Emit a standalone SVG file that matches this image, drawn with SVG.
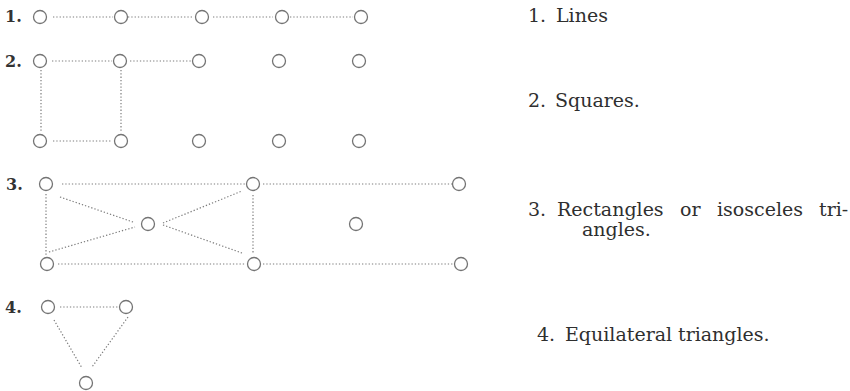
<svg xmlns="http://www.w3.org/2000/svg" width="850" height="391" viewBox="0 0 850 391">
<style>
.n{fill:#fff;stroke:#747474;stroke-width:1.3}
.c{stroke:#7c7c7c;stroke-width:1.2;stroke-dasharray:1.3 2;fill:none}
.lbl{font-family:"DejaVu Serif","Liberation Serif",serif;font-size:16px;fill:#333;font-weight:bold}
.t{font-family:"DejaVu Serif","Liberation Serif",serif;font-size:19px;fill:#2f2f2f}
</style>
<rect width="850" height="391" fill="#fff"/>
<g id="labels">
<text class="lbl" x="5" y="22">1.</text>
<text class="lbl" x="5" y="67">2.</text>
<text class="lbl" x="6" y="190" font-weight="normal">3.</text>
<text class="lbl" x="5" y="313">4.</text>
<text class="t" y="22"><tspan x="528">1.</tspan><tspan x="556">Lines</tspan></text>
<text class="t" y="107"><tspan x="528">2.</tspan><tspan x="555">Squares.</tspan></text>
<text class="t" y="216"><tspan x="528">3.</tspan><tspan x="557">Rectangles</tspan><tspan x="680">or</tspan><tspan x="717">isosceles</tspan><tspan x="819">tri-</tspan></text>
<text class="t" x="582" y="236">angles.</text>
<text class="t" y="341"><tspan x="537">4.</tspan><tspan x="565">Equilateral</tspan><tspan x="678">triangles.</tspan></text>
</g>
<g id="connectors">
<line class="c" x1="53" y1="17" x2="113" y2="17"/>
<line class="c" x1="128" y1="17" x2="194" y2="17"/>
<line class="c" x1="213" y1="17" x2="273" y2="17"/>
<line class="c" x1="290" y1="17" x2="353" y2="17"/>
<line class="c" x1="52" y1="61" x2="112" y2="61"/>
<line class="c" x1="130" y1="61" x2="191" y2="61"/>
<line class="c" x1="41" y1="70" x2="41" y2="132"/>
<line class="c" x1="121" y1="70" x2="121" y2="132"/>
<line class="c" x1="53" y1="141" x2="112" y2="141"/>
<line class="c" x1="62" y1="184" x2="246" y2="184"/>
<line class="c" x1="263" y1="184" x2="452" y2="184"/>
<line class="c" x1="46" y1="194" x2="46" y2="256"/>
<line class="c" x1="253" y1="195" x2="253" y2="254"/>
<line class="c" x1="60" y1="197" x2="133" y2="222"/>
<line class="c" x1="49" y1="252" x2="135" y2="227"/>
<line class="c" x1="163" y1="223" x2="242" y2="191"/>
<line class="c" x1="163" y1="225" x2="242" y2="253"/>
<line class="c" x1="58" y1="264" x2="245" y2="264"/>
<line class="c" x1="263" y1="264" x2="453" y2="264"/>
<line class="c" x1="60" y1="307" x2="118" y2="307"/>
<line class="c" x1="54" y1="320" x2="82" y2="368"/>
<line class="c" x1="128" y1="317" x2="92" y2="367"/>
</g>
<g id="nodes">
<g id="r1"><circle class="n" cx="40" cy="17" r="6.5"/><circle class="n" cx="121" cy="17" r="6.5"/><circle class="n" cx="202" cy="17" r="6.5"/><circle class="n" cx="282" cy="17" r="6.5"/><circle class="n" cx="361" cy="17" r="6.5"/></g>
<g id="r2"><circle class="n" cx="40" cy="61" r="6.5"/><circle class="n" cx="120" cy="61" r="6.5"/><circle class="n" cx="199" cy="61" r="6.5"/><circle class="n" cx="279" cy="61" r="6.5"/><circle class="n" cx="359" cy="61" r="6.5"/>
<circle class="n" cx="40" cy="141" r="6.5"/><circle class="n" cx="121" cy="141" r="6.5"/><circle class="n" cx="199" cy="141" r="6.5"/><circle class="n" cx="279" cy="141" r="6.5"/><circle class="n" cx="359" cy="141" r="6.5"/></g>
<g id="r3"><circle class="n" cx="46" cy="184" r="6.5"/><circle class="n" cx="253" cy="184" r="6.5"/><circle class="n" cx="459" cy="184" r="6.5"/>
<circle class="n" cx="148" cy="224" r="6.5"/><circle class="n" cx="356" cy="224" r="6.5"/>
<circle class="n" cx="47" cy="264" r="6.5"/><circle class="n" cx="254" cy="264" r="6.5"/><circle class="n" cx="461" cy="264" r="6.5"/></g>
<g id="r4"><circle class="n" cx="48" cy="307" r="6.5"/><circle class="n" cx="126" cy="307" r="6.5"/><circle class="n" cx="86" cy="383" r="6.5"/></g>
</g>
</svg>
